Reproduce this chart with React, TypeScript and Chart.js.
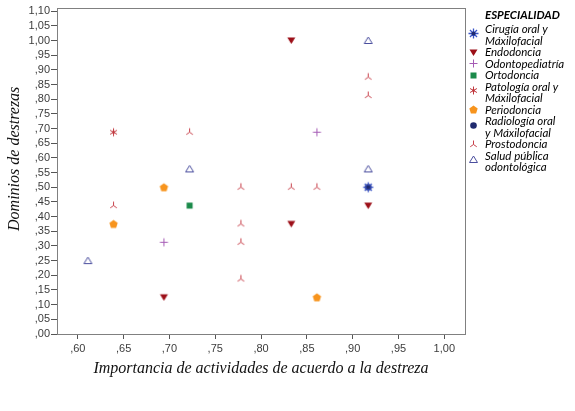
import { useEffect, useRef } from "react";
import { Chart, registerables } from "chart.js";

Chart.register(...registerables);

// ---- data ----
const legendTitle = "ESPECIALIDAD";
const categories = [
  "Cirugía oral y Máxilofacial",
  "Endodoncia",
  "Odontopediatría",
  "Ortodoncia",
  "Patología oral y Máxilofacial",
  "Periodoncia",
  "Radiología oral y Máxilofacial",
  "Prostodoncia",
  "Salud pública odontológica",
];
const legendLines = [
  ["Cirugía oral y", "Máxilofacial"],
  ["Endodoncia"],
  ["Odontopediatría"],
  ["Ortodoncia"],
  ["Patología oral y", "Máxilofacial"],
  ["Periodoncia"],
  ["Radiología oral", "y Máxilofacial"],
  ["Prostodoncia"],
  ["Salud pública", "odontológica"],
];

const cirugiaX = [0.917];
const cirugiaY = [0.5];
const endodonciaX = [0.833, 0.833, 0.917, 0.694];
const endodonciaY = [1.0, 0.375, 0.4375, 0.125];
const odontopediatriaX = [0.694, 0.861];
const odontopediatriaY = [0.3125, 0.6875];
const ortodonciaX = [0.722];
const ortodonciaY = [0.4375];
const patologiaX = [0.639];
const patologiaY = [0.6875];
const periodonciaX = [0.694, 0.639, 0.861];
const periodonciaY = [0.5, 0.375, 0.125];
const radiologiaX = [0.917];
const radiologiaY = [0.5];
const prostodonciaX = [0.722, 0.639, 0.778, 0.833, 0.861, 0.778, 0.778, 0.778, 0.917, 0.917];
const prostodonciaY = [0.6875, 0.4375, 0.5, 0.5, 0.5, 0.375, 0.3125, 0.1875, 0.875, 0.8125];
const saludX = [0.917, 0.917, 0.722, 0.611];
const saludY = [1.0, 0.5625, 0.5625, 0.25];

const xTicks = [0.6, 0.65, 0.7, 0.75, 0.8, 0.85, 0.9, 0.95, 1.0];
const yTicks = [0, 0.05, 0.1, 0.15, 0.2, 0.25, 0.3, 0.35, 0.4, 0.45, 0.5, 0.55, 0.6, 0.65, 0.7, 0.75, 0.8, 0.85, 0.9, 0.95, 1.0, 1.05, 1.1];

const xTitle = "Importancia de actividades de acuerdo a la destreza";
const yTitle = "Dominios de destrezas";

// ---- styles ----
const seriesXs = [cirugiaX, endodonciaX, odontopediatriaX, ortodonciaX, patologiaX, periodonciaX, radiologiaX, prostodonciaX, saludX];
const seriesYs = [cirugiaY, endodonciaY, odontopediatriaY, ortodonciaY, patologiaY, periodonciaY, radiologiaY, prostodonciaY, saludY];
const markerKinds = ["ast8", "downTri", "plus", "square", "ast6", "pent", "circle", "tri3", "hollowTri"];
const markerColors = ["#3a55c8", "#9c0f18", "#a55bb5", "#1b8a4a", "#c0383e", "#f7941d", "#1f2a6e", "#c8414b", "#4a4e9e"];

function makeMarker(kind: string, color: string): HTMLCanvasElement {
  const size = 13;
  const c = document.createElement("canvas");
  c.width = size;
  c.height = size;
  const g = c.getContext("2d")!;
  const m = size / 2;
  g.fillStyle = color;
  g.strokeStyle = color;
  g.lineWidth = 1;
  const spokes = (angles: number[], len: number) => {
    g.beginPath();
    for (const a of angles) {
      const r = (a * Math.PI) / 180;
      g.moveTo(m, m);
      g.lineTo(m + Math.cos(r) * len, m - Math.sin(r) * len);
    }
    g.stroke();
  };
  switch (kind) {
    case "downTri":
      g.beginPath();
      g.moveTo(m - 4, m - 3);
      g.lineTo(m + 4, m - 3);
      g.lineTo(m, m + 3.5);
      g.closePath();
      g.fill();
      break;
    case "plus":
      g.beginPath();
      g.moveTo(m - 4, m);
      g.lineTo(m + 4, m);
      g.moveTo(m, m - 4);
      g.lineTo(m, m + 4);
      g.stroke();
      break;
    case "square":
      g.fillRect(m - 3, m - 3, 6, 6);
      break;
    case "ast6":
      spokes([90, 210, 330, 30, 150, 270], 4);
      g.beginPath();
      g.arc(m, m, 1.3, 0, Math.PI * 2);
      g.fill();
      break;
    case "pent": {
      g.beginPath();
      for (let i = 0; i < 5; i++) {
        const a = -Math.PI / 2 + (i * 2 * Math.PI) / 5;
        const px = m + Math.cos(a) * 4.4;
        const py = m + 0.4 + Math.sin(a) * 4.4;
        if (i === 0) g.moveTo(px, py);
        else g.lineTo(px, py);
      }
      g.closePath();
      g.fill();
      break;
    }
    case "circle":
      g.beginPath();
      g.arc(m, m, 3.3, 0, Math.PI * 2);
      g.fill();
      break;
    case "tri3":
      spokes([90, 215, 325], 4);
      break;
    case "hollowTri":
      g.beginPath();
      g.moveTo(m, m - 3.5);
      g.lineTo(m + 4, m + 3);
      g.lineTo(m - 4, m + 3);
      g.closePath();
      g.stroke();
      break;
    case "ast8":
      g.lineWidth = 1.3;
      spokes([0, 45, 90, 135, 180, 225, 270, 315], 5);
      g.fillStyle = "#1f2a6e";
      g.beginPath();
      g.arc(m, m, 2, 0, Math.PI * 2);
      g.fill();
      break;
  }
  return c;
}

function fmt(v: number): string {
  const s = v.toFixed(2).replace(".", ",");
  return s.startsWith("0") ? s.slice(1) : s;
}

export default function App() {
  const ref = useRef<HTMLCanvasElement | null>(null);
  useEffect(() => {
    const canvas = ref.current;
    if (!canvas) return;
    const markers = markerKinds.map((k, i) => makeMarker(k, markerColors[i]));
    const datasets = categories.map((name, i) => ({
      label: name,
      data: seriesXs[i].map((x, j) => ({ x, y: seriesYs[i][j] })),
      pointStyle: markers[i] as any,
      pointRadius: 4,
      backgroundColor: markerColors[i],
      borderColor: markerColors[i],
    }));

    const framePlugin = {
      id: "frameLegend",
      afterDraw(chart: any) {
        const { ctx, chartArea } = chart;
        ctx.save();
        ctx.strokeStyle = "#808080";
        ctx.lineWidth = 1;
        ctx.strokeRect(
          Math.round(chartArea.left) + 0.5,
          Math.round(chartArea.top) + 0.5,
          Math.round(chartArea.right - chartArea.left),
          Math.round(chartArea.bottom - chartArea.top)
        );
        const lx = chartArea.right + 8;
        const tx = chartArea.right + 20;
        ctx.fillStyle = "#000";
        ctx.textBaseline = "middle";
        ctx.textAlign = "left";
        ctx.font = "italic bold 11.5px Lato";
        ctx.fillText(legendTitle, tx, 15.7);
        ctx.font = "italic 11.5px Lato";
        let line = 0;
        const y0 = 29.3;
        const lh = 11.5;
        legendLines.forEach((lines, i) => {
          const y = y0 + line * lh;
          const my = y + (lines.length > 1 ? 4 : 0);
          const mk = markers[i];
          ctx.drawImage(mk, Math.round(lx - mk.width / 2), Math.round(my - mk.height / 2));
          lines.forEach((t, k) => ctx.fillText(t, tx, y + k * lh));
          line += lines.length;
        });
        ctx.restore();
      },
    };

    const tickFont = { family: "'Liberation Sans', Arial, sans-serif", size: 11 };
    const titleFont = { family: "'Liberation Serif', serif", size: 16, style: "italic" as const };

    const chart = new Chart(canvas, {
      type: "scatter",
      data: { datasets },
      options: {
        animation: false,
        responsive: true,
        maintainAspectRatio: false,
        events: [],
        layout: { padding: { left: 0, top: 3, right: 110, bottom: 33 } },
        plugins: { legend: { display: false }, tooltip: { enabled: false } },
        scales: {
          x: {
            type: "linear",
            min: 0.5773,
            max: 1.0226,
            afterBuildTicks: (s: any) => {
              s.ticks = xTicks.map((v) => ({ value: v }));
            },
            afterFit: (s: any) => {
              s.height = 44;
            },
            border: { display: false },
            grid: { drawOnChartArea: false, drawTicks: true, tickLength: 5, tickColor: "#555" },
            ticks: { color: "#3c3c3c", font: tickFont, padding: 3, maxRotation: 0, autoSkip: false, callback: (v: any) => fmt(Number(v)) },
            title: { display: true, text: xTitle, color: "#111", font: titleFont, padding: { top: 0, bottom: 0 } },
          },
          y: {
            type: "linear",
            min: 0,
            max: 1.112,
            afterBuildTicks: (s: any) => {
              s.ticks = yTicks.map((v) => ({ value: v }));
            },
            afterFit: (s: any) => {
              s.width = 57;
            },
            border: { display: false },
            grid: { drawOnChartArea: false, drawTicks: true, tickLength: 6, tickColor: "#555" },
            ticks: { color: "#3c3c3c", font: tickFont, padding: 1, autoSkip: false, callback: (v: any) => fmt(Number(v)) },
            title: {
              display: true,
              text: "      " + yTitle,
              color: "#111",
              font: titleFont,
              padding: { top: 5.5, bottom: 0 },
            },
          },
        },
      },
      plugins: [framePlugin],
    });
    return () => chart.destroy();
  }, []);

  return (
    <div style={{ position: "fixed", left: 0, top: 0, width: 575, height: 411, background: "#fff" }}>
      <canvas ref={ref} />
    </div>
  );
}
